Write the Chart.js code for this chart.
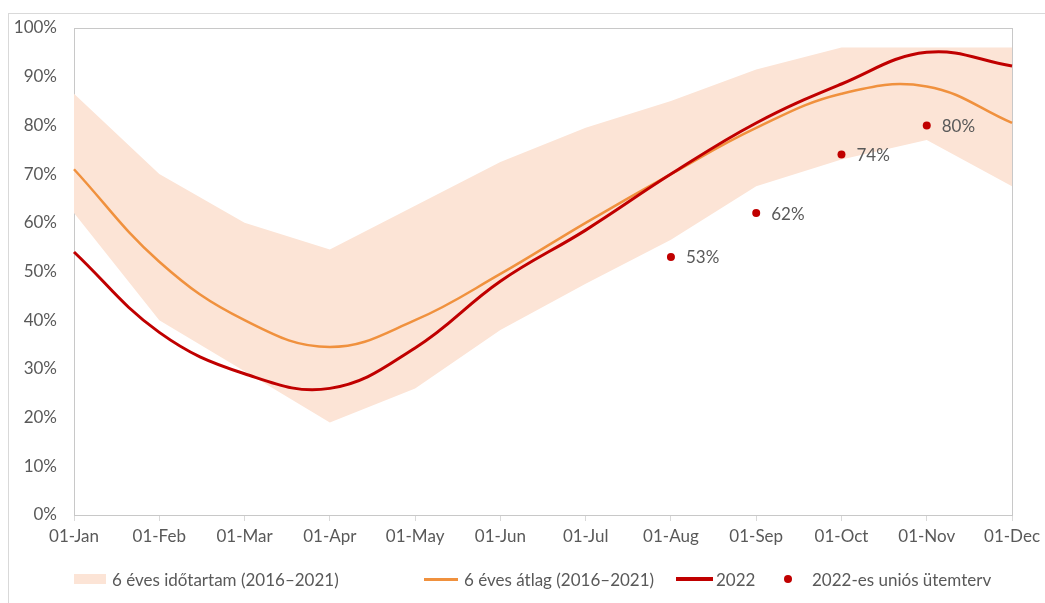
<!DOCTYPE html>
<html>
<head>
<meta charset="utf-8">
<script src="https://cdn.jsdelivr.net/npm/chart.js@4.4.0/dist/chart.umd.min.js"></script>
<style>
  html, body { margin: 0; padding: 0; background: #fff; }
  #wrap { position: relative; width: 1045px; height: 603px; overflow: hidden; }
  #frame { position: absolute; left: 8px; top: 13px; width: 1100px; height: 700px;
           border-top: 1px solid #d9d9d9; border-left: 1px solid #d9d9d9; }
  #chart { position: absolute; left: 0; top: 0; }
  .lg { position: absolute; top: 569px; height: 20px; display: flex; align-items: center;
        font-family: Lato, "Open Sans", sans-serif; font-size: 17px; color: #595959; white-space: nowrap; }
  .sw { display: inline-block; margin-right: 6px; }
</style>
</head>
<body>
<div id="wrap">
  <div id="frame"></div>
  <canvas id="chart" width="1045" height="603"></canvas>
  <div class="lg" style="left:74px"><span class="sw" style="width:32px;height:10px;background:#fce4d6"></span>6 éves időtartam (2016–2021)</div>
  <div class="lg" style="left:424px"><span class="sw" style="width:34px;height:3px;background:#f0913e"></span>6 éves átlag (2016–2021)</div>
  <div class="lg" style="left:676px"><span class="sw" style="width:37px;height:4px;background:#c00000;margin-right:3px"></span>2022</div>
  <div class="lg" style="left:784px"><span class="sw" style="width:8px;height:8px;border-radius:50%;background:#c00000;margin-right:20px"></span>2022-es uniós ütemterv</div>
</div>
<script>
// months on the x axis
const months = ['01-Jan', '01-Feb', '01-Mar', '01-Apr', '01-May', '01-Jun',
                '01-Jul', '01-Aug', '01-Sep', '01-Oct', '01-Nov', '01-Dec'];

// 6 year range (2016-2021), low / high edge
const bandLow  = [62, 40, 29.5, 19, 26, 38, 47.5, 56.5, 67.5, 73, 77, 67.5];
const bandHigh = [86.5, 70, 60, 54.5, 63.5, 72.5, 79.5, 85, 91.5, 96, 96, 96];

// 6 year average
const avg = [71, 52, 40, 34.5, 40, 49.5, 60, 70, 79.5, 86.5, 88, 80.5];

// 2022
const y2022 = [54, 37.5, 29, 26, 34.3, 48, 58.5, 70, 80.5, 88.5, 95, 92.2];

// EU plan 2022
const planMonths = ['01-Aug', '01-Sep', '01-Oct', '01-Nov'];
const planValues = [53, 62, 74, 80];

const yTicks = [0, 10, 20, 30, 40, 50, 60, 70, 80, 90, 100];

const FONT = 'Lato, "Open Sans", sans-serif';
const GREY = '#595959';

// plot area box (top + right + left border)
const boxPlugin = {
  id: 'box',
  beforeDatasetsDraw(chart) {
    const a = chart.chartArea, ctx = chart.ctx;
    ctx.save();
    ctx.strokeStyle = '#c8c8c8';
    ctx.lineWidth = 1;
    ctx.strokeRect(Math.round(a.left) + 0.5, Math.round(a.top) + 0.5,
                   Math.round(a.right - a.left), Math.round(a.bottom - a.top));
    ctx.restore();
  }
};

// percent labels next to the plan dots
const dotLabels = {
  id: 'dotLabels',
  afterDatasetsDraw(chart) {
    const meta = chart.getDatasetMeta(0);
    const ctx = chart.ctx;
    ctx.save();
    ctx.font = '17px ' + FONT;
    ctx.fillStyle = GREY;
    ctx.textAlign = 'left';
    ctx.textBaseline = 'middle';
    meta.data.forEach((pt, i) => {
      ctx.fillText(planValues[i] + '%', pt.x + 15, pt.y + 1);
    });
    ctx.restore();
  }
};

new Chart(document.getElementById('chart'), {
  type: 'line',
  data: {
    labels: months,
    datasets: [
      {
        label: '2022-es uniós ütemterv',
        data: planMonths.map((m, i) => ({ x: m, y: planValues[i] })),
        showLine: false,
        pointRadius: 4,
        pointBackgroundColor: '#c00000',
        pointBorderWidth: 0
      },
      {
        label: '2022',
        data: y2022,
        borderColor: '#c00000',
        borderWidth: 3,
        pointRadius: 0,
        tension: 0.4,
        fill: false
      },
      {
        label: '6 éves átlag (2016–2021)',
        data: avg,
        borderColor: '#f0913e',
        borderWidth: 2.5,
        pointRadius: 0,
        tension: 0.4,
        fill: false
      },
      {
        label: 'band high',
        data: bandHigh,
        borderWidth: 0,
        borderColor: 'rgba(0,0,0,0)',
        backgroundColor: '#fce4d6',
        pointRadius: 0,
        tension: 0,
        fill: '+1'
      },
      {
        label: 'band low',
        data: bandLow,
        borderWidth: 0,
        borderColor: 'rgba(0,0,0,0)',
        pointRadius: 0,
        tension: 0,
        fill: false
      }
    ]
  },
  options: {
    responsive: false,
    animation: false,
    layout: { padding: { top: 28, right: 32, left: 0, bottom: 0 } },
    plugins: {
      legend: { display: false },
      tooltip: { enabled: false }
    },
    scales: {
      x: {
        offset: false,
        grid: { drawOnChartArea: false, drawTicks: true, tickLength: 6, color: '#d9d9d9' },
        border: { color: '#d9d9d9' },
        ticks: { color: GREY, font: { family: FONT, size: 17 }, padding: 5, maxRotation: 0, autoSkip: false },
        afterFit(scale) { scale.height = 88; }
      },
      y: {
        min: 0,
        max: 100,
        afterBuildTicks(scale) { scale.ticks = yTicks.map(v => ({ value: v })); },
        grid: { display: false, drawTicks: false },
        border: { display: false },
        ticks: { color: GREY, font: { family: FONT, size: 17 }, padding: 17, callback: v => v + '%' },
        afterFit(scale) { scale.width = 74; }
      }
    }
  },
  plugins: [boxPlugin, dotLabels]
});
</script>
</body>
</html>
